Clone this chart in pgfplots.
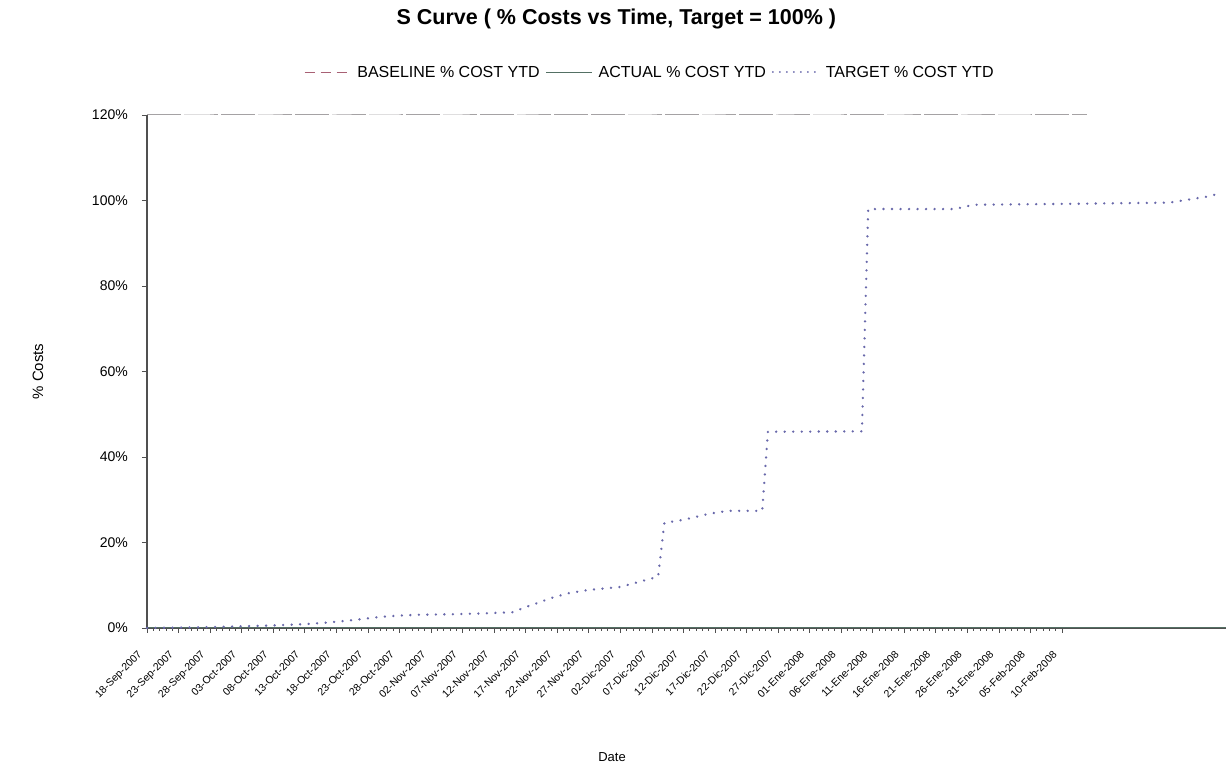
\documentclass[border=0pt]{standalone}
\usepackage{fontspec}
\setmainfont{Liberation Sans}
\usepackage{pgfplots}
\pgfplotsset{compat=1.18}

\definecolor{baseclr}{RGB}{168,96,116}
\definecolor{basegray}{RGB}{165,162,164}
\definecolor{actualclr}{RGB}{84,112,100}
\definecolor{targetclr}{RGB}{104,104,170}
\definecolor{axisclr}{RGB}{80,80,80}

% days counted from 18-Sep-2007
\begin{document}
\begin{tikzpicture}
\begin{axis}[
  scale only axis,
  width=1079pt, height=513pt,
  xmin=0, xmax=171,
  ymin=0, ymax=120,
  clip=false,
  axis x line*=bottom,
  axis y line*=left,
  axis line style={draw=axisclr, line width=1.1pt, -},
  tick align=outside,
  major tick length=5pt,
  minor tick length=3pt,
  every tick/.style={draw=axisclr, line width=0.6pt},
  xtick={0,5,...,145},
  minor x tick num=4,
  xticklabels={18-Sep-2007,23-Sep-2007,28-Sep-2007,03-Oct-2007,08-Oct-2007,13-Oct-2007,18-Oct-2007,23-Oct-2007,28-Oct-2007,02-Nov-2007,07-Nov-2007,12-Nov-2007,17-Nov-2007,22-Nov-2007,27-Nov-2007,02-Dic-2007,07-Dic-2007,12-Dic-2007,17-Dic-2007,22-Dic-2007,27-Dic-2007,01-Ene-2008,06-Ene-2008,11-Ene-2008,16-Ene-2008,21-Ene-2008,26-Ene-2008,31-Ene-2008,05-Feb-2008,10-Feb-2008},
  xticklabel style={font=\fontsize{10.5}{12}\selectfont, rotate=45, anchor=north east, inner sep=1pt, xshift=-18pt, yshift=-4pt},
  ytick={0,20,...,120},
  yticklabels={0\%,20\%,40\%,60\%,80\%,100\%,120\%},
  yticklabel style={font=\fontsize{14}{16}\selectfont, inner sep=1pt, xshift=-13pt},
  xlabel={Date},
  xlabel style={font=\fontsize{13}{15}\selectfont, at={(axis description cs:0.431,-0.251)}, anchor=center},
  ylabel={\% Costs},
  ylabel style={font=\fontsize{15}{17}\selectfont, at={(axis description cs:-0.101,0.5)}, anchor=center},
  title={S Curve ( \% Costs vs Time, Target = 100\% )},
  title style={font=\bfseries\fontsize{21.5}{24}\selectfont, at={(axis description cs:0.435,1.175)}, anchor=center},
  legend columns=3,
  legend style={draw=none, fill=none, at={(axis description cs:0.466,1.083)}, anchor=center,
    font=\fontsize{16}{18}\selectfont, column sep=4pt,
    /tikz/every even column/.append style={column sep=4pt}},
  legend image code/.code={\draw[#1] (0pt,0pt) -- (46pt,0pt);},
]

% BASELINE % COST YTD (above the scale, held at the top edge)
\addplot[basegray, line width=1pt, dash pattern=on 34pt off 3pt,
  legend image post style={baseclr, dash pattern=on 10pt off 6pt, line width=1.3pt}]
  coordinates {(0,120) (10,120) (20,120) (30,120) (40,120) (50,120) (60,120) (70,120)
               (80,120) (90,120) (100,120) (110,120) (120,120) (130,120) (140,120) (149,120)};
\addlegendentry{BASELINE \% COST YTD}

% ACTUAL % COST YTD
\addplot[actualclr, line width=1.1pt]
  coordinates {(0,0.2) (20,0.2) (40,0.2) (60,0.2) (80,0.2) (100,0.2) (120,0.2) (140,0.2) (160,0.2) (171,0.2)};
\addlegendentry{ACTUAL \% COST YTD}

% TARGET % COST YTD
\addplot[targetclr, line width=2.6pt, line cap=round, dash pattern=on 0.01pt off 8.5pt,
  legend image post style={line width=2pt, dash pattern=on 0.01pt off 7pt}]
  coordinates {
  (0,0.0) (5,0.1) (10,0.2) (15,0.4) (20,0.6) (25,0.9) (28,1.2) (31,1.6)
  (33,1.9) (37,2.6) (40,2.9) (43,3.1) (48,3.2) (53,3.4) (58,3.7)
  (60,4.9) (62,5.9) (64,7.0) (67,8.2) (70,8.9) (75,9.6) (79,11.2) (81,12.0)
  (82,24.6) (85,25.3) (89,26.7) (92,27.4) (97.5,27.4)
  (98.4,45.9) (113.3,46.0)
  (114.3,98.0) (128,98.0) (131,99.0) (145,99.2) (162,99.5)
  (165,100.2) (168,100.9) (170.4,101.8)};
\addlegendentry{TARGET \% COST YTD}

\end{axis}
\pgfresetboundingbox
\path[use as bounding box] (-147pt,-139pt) rectangle (1079pt,628pt);
\end{tikzpicture}
\end{document}
